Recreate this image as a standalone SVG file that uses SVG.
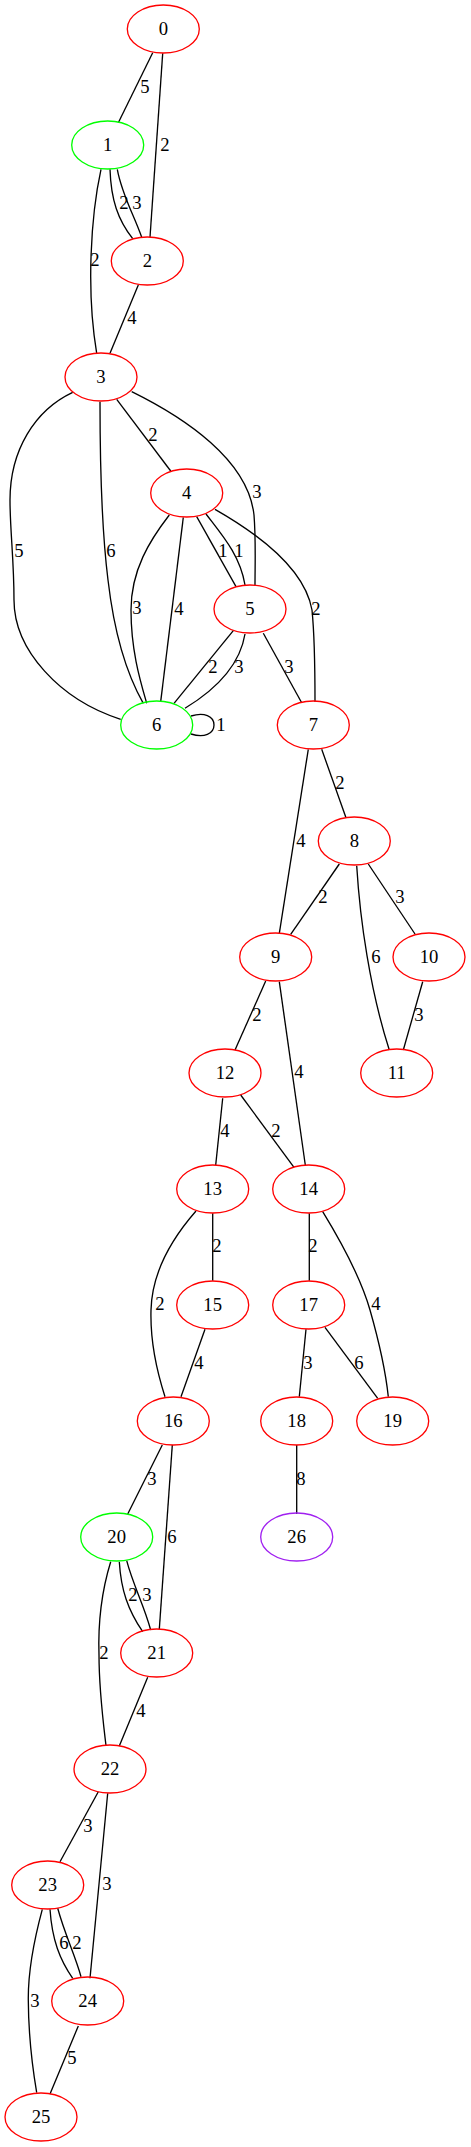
<svg xmlns="http://www.w3.org/2000/svg" width="471" height="2147" viewBox="0 0 471 2147">
<style>
.n ellipse{fill:none;stroke-width:1.33}
.r ellipse{stroke:#ff0000}
.g ellipse{stroke:#00ff00}
.p ellipse{stroke:#a020f0}
text{font-family:"Liberation Serif","Times New Roman",serif;font-size:18.67px;text-anchor:middle;fill:#000}
#edges path{fill:none;stroke:#000;stroke-width:1.33}
</style>
<rect width="471" height="2147" fill="#fff"/>
<g id="edges">
<path d="M152.7,52.7 L118.3,122.7"/><text x="145" y="93">5</text>
<path d="M162.7,53.3 L150,237.3"/><text x="165" y="151">2</text>
<path d="M110,169.3 C111,200 118,220 132.7,238.7"/><text x="124" y="209">2</text>
<path d="M117.3,169.3 C122,195 134,215 141.7,237.3"/><text x="137" y="209">3</text>
<path d="M101,169.3 C91,215 86,290 96.7,353.3"/><text x="95" y="266">2</text>
<path d="M138.3,285 L110,353.3"/><text x="132" y="324">4</text>
<path d="M116.7,399.3 L170.7,471"/><text x="153" y="441">2</text>
<path d="M131.7,391.7 C185,418 248,460 254,515 C256,540 255,565 255,585.7"/><text x="257" y="498">3</text>
<path d="M100,401.7 C100,470 103,540 108,580 C115,640 130,680 143.3,703.3"/><text x="111" y="557">6</text>
<path d="M72.7,392.3 C35,410 10,450 10,500 C10,530 14,560 14,600 C14,650 60,700 120.7,719.3"/><text x="19" y="557">5</text>
<path d="M169.3,515 C150,540 131,570 131,610 C131,650 140,680 146.7,703.3"/><text x="137" y="614">3</text>
<path d="M183.3,517.3 L160.7,701.7"/><text x="179" y="615">4</text>
<path d="M196.7,516.7 L236,586.7"/><text x="223" y="557">1</text>
<path d="M206,514 C222,535 240,555 245,585"/><text x="239" y="557">1</text>
<path d="M215,509.3 C260,535 305,570 312,610 C315,640 315,675 315,701.7"/><text x="316" y="615">2</text>
<path d="M233.3,630.7 L174,703.3"/><text x="213" y="673">2</text>
<path d="M245,634 C240,665 215,690 185,708.3"/><text x="239" y="673">3</text>
<path d="M191,716 C204,712 214,716 214,725 C214,734 204,738 191,734"/><text x="221" y="731">1</text>
<path d="M263.3,633.3 L301.7,702.7"/><text x="289" y="673">3</text>
<path d="M321.7,749.3 L346,817.7"/><text x="340" y="789">2</text>
<path d="M308.3,749.3 L279.3,933.3"/><text x="301" y="847">4</text>
<path d="M339.3,864 L290.7,934.3"/><text x="323" y="903">2</text>
<path d="M356.7,865.7 C360,920 370,990 389.3,1050"/><text x="376" y="963">6</text>
<path d="M368.3,864 L415,934"/><text x="400" y="903">3</text>
<path d="M422.7,981.7 L403.3,1050"/><text x="419" y="1021">3</text>
<path d="M265.7,981 L235,1050"/><text x="257" y="1021">2</text>
<path d="M279.3,981.7 L305.3,1165"/><text x="299" y="1078">4</text>
<path d="M222.7,1098.3 L215.7,1165"/><text x="225" y="1137">4</text>
<path d="M240.7,1095 L294,1167.3"/><text x="276" y="1137">2</text>
<path d="M212.7,1213.3 L212.7,1280.7"/><text x="217" y="1252">2</text>
<path d="M196,1211 C175,1235 152,1270 151,1310 C150,1345 158,1375 165,1396.7"/><text x="160" y="1310">2</text>
<path d="M205,1329.3 L181,1396.7"/><text x="199" y="1369">4</text>
<path d="M309.3,1213.3 L309.3,1280.7"/><text x="313" y="1252">2</text>
<path d="M322.7,1211.7 C340,1240 360,1275 370,1310 C380,1345 386,1375 388.3,1396.7"/><text x="376" y="1310">4</text>
<path d="M306,1329.3 L299.3,1396.7"/><text x="308" y="1369">3</text>
<path d="M325,1327.3 L377.7,1398.3"/><text x="359" y="1369">6</text>
<path d="M162.3,1445 L127.7,1514"/><text x="152" y="1485">3</text>
<path d="M172.3,1445 L159.3,1629.3"/><text x="172" y="1543">6</text>
<path d="M296.7,1445 L296.7,1514"/><text x="301" y="1485">8</text>
<path d="M119.3,1561.7 C121,1590 128,1610 142.7,1631.7"/><text x="133" y="1601">2</text>
<path d="M126.7,1560.7 C133,1585 144,1605 150.7,1630"/><text x="147" y="1601">3</text>
<path d="M110.7,1561.7 C102,1590 98,1625 99,1655 C99,1690 103,1720 106,1745.7"/><text x="104" y="1659">2</text>
<path d="M147.7,1677.3 L119.3,1746"/><text x="141" y="1717">4</text>
<path d="M98.3,1791.7 L60,1861.7"/><text x="88" y="1832">3</text>
<path d="M107.7,1793.3 L90,1978.3"/><text x="107" y="1890">3</text>
<path d="M50,1909.3 C52,1940 60,1960 72.7,1978.3"/><text x="64" y="1949">6</text>
<path d="M57.7,1908.3 C65,1935 75,1955 81,1976.7"/><text x="77" y="1949">2</text>
<path d="M42.3,1909.3 C34,1940 28,1970 28.3,2000 C28.5,2035 32,2065 36.7,2092.7"/><text x="35" y="2007">3</text>
<path d="M78.3,2026 L50,2094"/><text x="72" y="2064">5</text>
</g>
<g id="node0" class="n r"><ellipse cx="163.3" cy="29" rx="36" ry="24"/><text x="163.3" y="35">0</text></g>
<g id="node1" class="n g"><ellipse cx="107.7" cy="145" rx="36" ry="24"/><text x="107.7" y="151">1</text></g>
<g id="node2" class="n r"><ellipse cx="147.3" cy="261" rx="36" ry="24"/><text x="147.3" y="267">2</text></g>
<g id="node3" class="n r"><ellipse cx="101" cy="377" rx="36" ry="24"/><text x="101" y="383">3</text></g>
<g id="node4" class="n r"><ellipse cx="186.7" cy="493" rx="36" ry="24"/><text x="186.7" y="499">4</text></g>
<g id="node5" class="n r"><ellipse cx="250" cy="609" rx="36" ry="24"/><text x="250" y="615">5</text></g>
<g id="node6" class="n g"><ellipse cx="156.7" cy="725" rx="36" ry="24"/><text x="156.7" y="731">6</text></g>
<g id="node7" class="n r"><ellipse cx="313.3" cy="725" rx="36" ry="24"/><text x="313.3" y="731">7</text></g>
<g id="node8" class="n r"><ellipse cx="354.3" cy="841" rx="36" ry="24"/><text x="354.3" y="847">8</text></g>
<g id="node9" class="n r"><ellipse cx="275.7" cy="957" rx="36" ry="24"/><text x="275.7" y="963">9</text></g>
<g id="node10" class="n r"><ellipse cx="429" cy="957" rx="36" ry="24"/><text x="429" y="963">10</text></g>
<g id="node11" class="n r"><ellipse cx="396.7" cy="1073" rx="36" ry="24"/><text x="396.7" y="1079">11</text></g>
<g id="node12" class="n r"><ellipse cx="225" cy="1073" rx="36" ry="24"/><text x="225" y="1079">12</text></g>
<g id="node13" class="n r"><ellipse cx="212.7" cy="1189" rx="36" ry="24"/><text x="212.7" y="1195">13</text></g>
<g id="node14" class="n r"><ellipse cx="308.7" cy="1189" rx="36" ry="24"/><text x="308.7" y="1195">14</text></g>
<g id="node15" class="n r"><ellipse cx="212.7" cy="1305" rx="36" ry="24"/><text x="212.7" y="1311">15</text></g>
<g id="node17" class="n r"><ellipse cx="308.7" cy="1305" rx="36" ry="24"/><text x="308.7" y="1311">17</text></g>
<g id="node16" class="n r"><ellipse cx="173.3" cy="1421" rx="36" ry="24"/><text x="173.3" y="1427">16</text></g>
<g id="node18" class="n r"><ellipse cx="296.7" cy="1421" rx="36" ry="24"/><text x="296.7" y="1427">18</text></g>
<g id="node19" class="n r"><ellipse cx="392.7" cy="1421" rx="36" ry="24"/><text x="392.7" y="1427">19</text></g>
<g id="node20" class="n g"><ellipse cx="116.7" cy="1537" rx="36" ry="24"/><text x="116.7" y="1543">20</text></g>
<g id="node26" class="n p"><ellipse cx="296.7" cy="1537" rx="36" ry="24"/><text x="296.7" y="1543">26</text></g>
<g id="node21" class="n r"><ellipse cx="156.7" cy="1653" rx="36" ry="24"/><text x="156.7" y="1659">21</text></g>
<g id="node22" class="n r"><ellipse cx="110" cy="1769" rx="36" ry="24"/><text x="110" y="1775">22</text></g>
<g id="node23" class="n r"><ellipse cx="47.7" cy="1885" rx="36" ry="24"/><text x="47.7" y="1891">23</text></g>
<g id="node24" class="n r"><ellipse cx="87.7" cy="2001" rx="36" ry="24"/><text x="87.7" y="2007">24</text></g>
<g id="node25" class="n r"><ellipse cx="41" cy="2117" rx="36" ry="24"/><text x="41" y="2123">25</text></g>
</svg>
